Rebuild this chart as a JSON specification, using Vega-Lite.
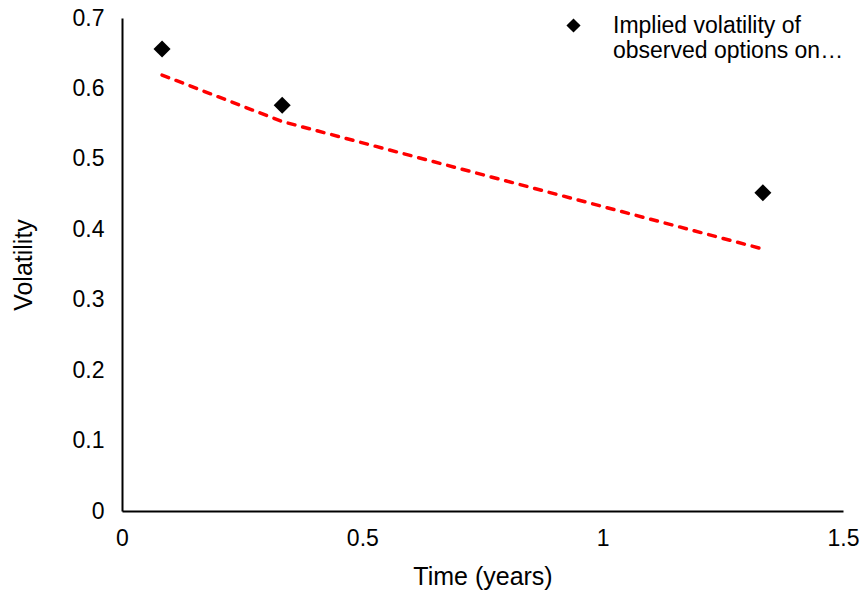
{
  "$schema": "https://vega.github.io/schema/vega-lite/v6.json",
  "width": 721,
  "height": 493,
  "autosize": {"type": "none"},
  "padding": {"left": 122, "top": 18, "right": 20, "bottom": 86},
  "background": "white",
  "config": {
    "view": {"stroke": null},
    "font": "Liberation Sans",
    "axis": {
      "grid": false,
      "ticks": false,
      "domainColor": "black",
      "domainWidth": 2,
      "labelFont": "Liberation Sans",
      "labelColor": "black",
      "titleFont": "Liberation Sans",
      "titleFontWeight": "normal",
      "titleColor": "black"
    }
  },
  "datasets": {
    "observed": [
      {"time": 0.0833, "vol": 0.656, "series": "Implied volatility of observed options on…"},
      {"time": 0.3333, "vol": 0.576, "series": "Implied volatility of observed options on…"},
      {"time": 1.3333, "vol": 0.452, "series": "Implied volatility of observed options on…"}
    ],
    "model": [
      {"time": 0.0833, "vol": 0.619},
      {"time": 0.3333, "vol": 0.553},
      {"time": 1.3333, "vol": 0.372}
    ]
  },
  "layer": [
    {
      "data": {"name": "model"},
      "mark": {"type": "line", "color": "#FF0000", "strokeWidth": 3.5, "strokeDash": [7, 8], "strokeCap": "round"},
      "encoding": {
        "x": {"field": "time", "type": "quantitative", "scale": {"domain": [0, 1.5], "nice": false}, "axis": {"values": [0, 0.5, 1, 1.5], "format": "~g", "title": "Time (years)", "labelFontSize": 23, "labelPadding": 16, "titlePadding": 14, "titleFontSize": 25, "labelFlush": false}},
        "y": {"field": "vol", "type": "quantitative", "scale": {"domain": [0, 0.7], "nice": false}, "axis": {"values": [0, 0.1, 0.2, 0.3, 0.4, 0.5, 0.6, 0.7], "format": "~g", "title": "Volatility", "labelFontSize": 23, "labelPadding": 18, "titlePadding": 36, "titleFontSize": 25, "labelFlush": false}}
      }
    },
    {
      "data": {"name": "observed"},
      "mark": {"type": "point", "shape": "diamond", "filled": true, "size": 290, "opacity": 1},
      "encoding": {
        "x": {"field": "time", "type": "quantitative"},
        "y": {"field": "vol", "type": "quantitative"},
        "color": {
          "field": "series",
          "type": "nominal",
          "scale": {"range": ["black"]},
          "legend": {
            "title": null,
            "orient": "none",
            "legendX": 440,
            "legendY": -4,
            "symbolType": "diamond",
            "symbolSize": 200,
            "symbolFillColor": "black",
            "labelFont": "Liberation Sans",
            "labelFontSize": 23,
            "labelColor": "black",
            "labelLimit": 400,
            "labelOffset": 28,
            "labelBaseline": "middle",
            "labelExpr": "['Implied volatility of', 'observed options on…']"
          }
        }
      }
    }
  ]
}
